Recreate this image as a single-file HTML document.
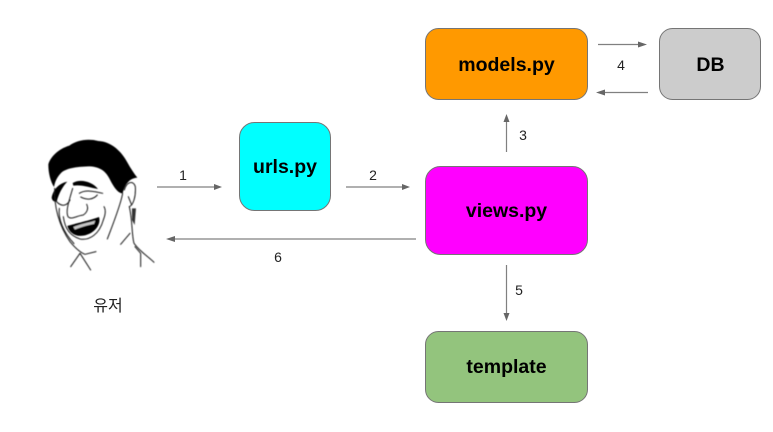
<!DOCTYPE html>
<html>
<head>
<meta charset="utf-8">
<style>
html,body{margin:0;padding:0;background:#fff;width:773px;height:432px;overflow:hidden}
svg{display:block}
.b{font-family:"Liberation Sans",sans-serif;font-weight:bold;font-size:19.5px;fill:#000;text-anchor:middle}
.n{font-family:"Liberation Sans",sans-serif;font-size:14px;fill:#222;text-anchor:middle}
.k{font-family:"Liberation Sans","Noto Sans CJK KR",sans-serif;font-size:16px;fill:#222;text-anchor:middle}
.box{stroke:#757575;stroke-width:1}
.l{stroke:#808080;stroke-width:1.2;fill:none}
.a{fill:#666}
</style>
</head>
<body>
<svg width="773" height="432" viewBox="0 0 773 432" xmlns="http://www.w3.org/2000/svg">
<defs><filter id="s" x="-5%" y="-5%" width="110%" height="110%"><feGaussianBlur stdDeviation="1.3"/></filter></defs>
<rect class="box" x="425.5" y="28.5" width="162" height="71" rx="13" fill="#ff9900"/>
<rect class="box" x="659.5" y="28.5" width="101" height="71" rx="13" fill="#cccccc"/>
<rect class="box" x="239.5" y="122.5" width="91" height="88" rx="15" fill="#00ffff"/>
<rect class="box" x="425.5" y="166.5" width="162" height="88" rx="15" fill="#ff00ff"/>
<rect class="box" x="425.5" y="331.5" width="162" height="71" rx="13" fill="#93c47d"/>

<text class="b" x="506.5" y="71">models.py</text>
<text class="b" x="710.5" y="71">DB</text>
<text class="b" x="285" y="173">urls.py</text>
<text class="b" x="506.5" y="217">views.py</text>
<text class="b" x="506.5" y="373">template</text>

<line class="l" x1="157" y1="187" x2="217" y2="187"/><polygon class="a" points="222,187 214,184 214,190"/>
<line class="l" x1="346" y1="187" x2="405" y2="187"/><polygon class="a" points="410,187 402,184 402,190"/>
<line class="l" x1="172" y1="239" x2="416" y2="239"/><polygon class="a" points="166,239 175,236 175,242"/>
<line class="l" x1="506.5" y1="152" x2="506.5" y2="119"/><polygon class="a" points="506.5,114 503.5,122 509.5,122"/>
<line class="l" x1="506.5" y1="265" x2="506.5" y2="315"/><polygon class="a" points="506.5,321 503.5,313 509.5,313"/>
<line class="l" x1="598" y1="44.5" x2="642" y2="44.5"/><polygon class="a" points="647,44.5 638,41.5 638,47.5"/>
<line class="l" x1="600" y1="92.5" x2="648" y2="92.5"/><polygon class="a" points="596,92.5 605,89.5 605,95.5"/>

<text class="n" x="183" y="180">1</text>
<text class="n" x="373" y="180">2</text>
<text class="n" x="523" y="140">3</text>
<text class="n" x="621" y="70">4</text>
<text class="n" x="519" y="295">5</text>
<text class="n" x="278" y="262">6</text>
<text class="k" x="108" y="311">유저</text>

<g transform="translate(30,125) scale(.3333)" filter="url(#s)">
<path fill="#000" d="M55 118 C62 95 85 72 118 62 C140 45 175 40 205 48 C245 50 275 80 292 112 C302 130 312 145 322 158 C300 160 285 175 278 205 C262 205 248 180 238 160 C225 135 205 124 175 124 C140 125 105 130 92 145 C80 158 75 170 72 186 C62 170 55 145 55 118 Z"/>
<path fill="#000" d="M128 174 C150 160 188 170 204 192 C180 188 155 178 130 182 Z"/>
<path fill="#000" d="M65 218 C70 192 88 175 112 170 C98 185 88 202 80 230 C72 232 66 226 65 218 Z"/>
<path fill="#000" d="M112 303 C135 296 180 286 207 276 C214 296 196 326 160 332 C134 336 118 322 112 303 Z"/>
<path fill="#c8c8c8" d="M130 306 C150 298 175 293 196 287 L192 297 C170 301 150 307 135 314 Z"/>
<g fill="none" stroke="#1a1a1a" stroke-width="3" stroke-linecap="round" stroke-linejoin="round">
<path d="M74 190 C72 240 85 300 120 350 C135 368 150 382 165 388 L198 380"/>
<path d="M278 205 C272 240 248 300 232 342"/>
<path d="M78 228 C95 248 112 242 120 225"/>
<path d="M148 205 C165 194 190 198 218 205"/>
<path d="M152 216 C170 226 190 224 202 210"/>
<path d="M128 190 C118 225 106 258 114 275 C124 286 140 272 160 270 C172 262 176 250 170 238"/>
<path d="M100 275 C105 312 120 332 150 342 C178 347 208 328 220 285 C226 270 228 255 222 245"/>
<path d="M88 250 C84 282 100 322 132 356"/>
<path d="M283 195 C290 170 310 165 316 185 C318 215 310 240 298 245"/>
<path d="M298 245 C308 290 305 330 312 355 C330 380 355 395 372 412"/>
<path d="M315 365 L332 385 L332 425"/>
<path d="M300 325 L272 358"/>
<path d="M150 385 L122 425 M150 385 L182 435"/>
<path d="M295 215 L305 240"/>
</g>
<path d="M306 250 L318 250 L314 300 L306 285 Z" fill="#333"/>
</g>
</svg>
</body>
</html>
